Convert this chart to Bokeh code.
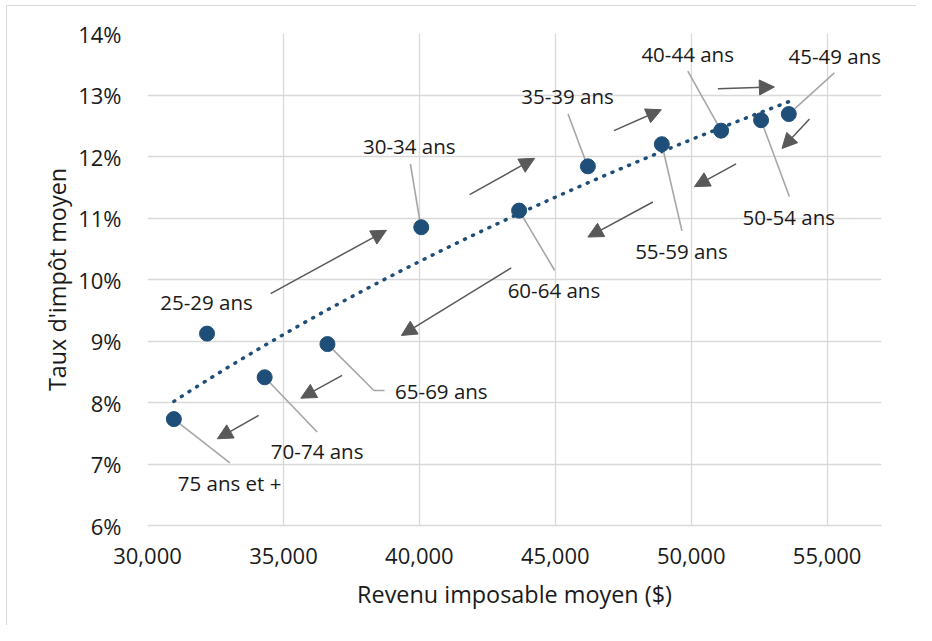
import numpy as np
from bokeh.plotting import figure
from bokeh.models import (ColumnDataSource, Range1d, FixedTicker, NumeralTickFormatter,
                          PrintfTickFormatter, Arrow, NormalHead)
from bokeh.core.properties import value
from bokeh.embed import file_html
from bokeh.resources import INLINE

# ---- data ----
ages = ["25-29 ans", "30-34 ans", "35-39 ans", "40-44 ans", "45-49 ans", "50-54 ans",
        "55-59 ans", "60-64 ans", "65-69 ans", "70-74 ans", "75 ans et +"]
revenu = [32190, 40070, 46200, 51100, 53590, 52570, 48920, 43670, 36620, 34310, 30970]
taux = [9.12, 10.85, 11.84, 12.42, 12.69, 12.59, 12.20, 11.12, 8.95, 8.41, 7.73]

# label anchor positions (data units)
label_x = [32170, 39630, 45450, 49870, 55280, 53590, 49640, 44950, 40810, 36240, 33020]
label_y = [9.64, 12.17, 12.99, 13.67, 13.64, 11.02, 10.46, 9.83, 8.18, 7.21, 6.69]

# leader lines (data units)
leader_xs = [[39670, 40050], [45470, 46180], [49875, 51100], [55265, 53590],
             [53610, 52570], [49660, 48920], [44975, 43670], [38720, 38330, 36620],
             [36240, 34310], [33030, 30970]]
leader_ys = [[11.88, 10.87], [12.69, 11.85], [13.39, 12.42], [13.36, 12.69],
             [11.35, 12.59], [10.79, 12.20], [10.15, 11.12], [8.195, 8.195, 8.95],
             [7.52, 8.41], [7.02, 7.73]]

# life-cycle arrows (data units)
arrow_x0 = [34530, 41850, 47160, 50980, 54350, 51650, 48590, 43380, 37160, 34090]
arrow_y0 = [9.77, 11.38, 12.42, 13.10, 12.61, 11.88, 11.26, 10.19, 8.44, 7.79]
arrow_x1 = [38790, 44240, 48900, 53060, 53340, 50120, 46200, 39340, 35640, 32570]
arrow_y1 = [10.80, 11.97, 12.76, 13.13, 12.13, 11.51, 10.69, 9.09, 8.07, 7.41]

x_ticks = [30000, 35000, 40000, 45000, 50000, 55000]
y_ticks = [6, 7, 8, 9, 10, 11, 12, 13, 14]

# ---- figure ----
FONT = "Open Sans"
p = figure(width=910, height=620, output_backend="svg", toolbar_location=None,
           x_range=Range1d(30000, 57000), y_range=Range1d(6, 14),
           min_border_left=140, min_border_right=36, min_border_top=27, min_border_bottom=101)
p.margin = (5, 0, 0, 6)
p.outline_line_color = None
p.background_fill_color = "white"
p.border_fill_color = "white"
p.styles = {"border-left": "1px solid #d9d9d9", "border-top": "1px solid #d9d9d9"}

p.xaxis.ticker = FixedTicker(ticks=x_ticks)
p.yaxis.ticker = FixedTicker(ticks=y_ticks)
p.xaxis.formatter = NumeralTickFormatter(format="0,0")
p.yaxis.formatter = PrintfTickFormatter(format="%d%%")

for ax in (p.xaxis[0], p.yaxis[0]):
    ax.major_tick_line_color = None
    ax.minor_tick_line_color = None
    ax.major_label_text_font = FONT
    ax.major_label_text_font_size = "22px"
    ax.major_label_text_color = "#1a1a1a"
    ax.axis_label_text_font = FONT
    ax.axis_label_text_font_size = "23.4px"
    ax.axis_label_text_font_style = "normal"
    ax.axis_label_text_color = "#1a1a1a"

p.xaxis.axis_line_color = "#d9d9d9"
p.xaxis.axis_line_width = 1.3
p.yaxis.axis_line_color = None
p.xaxis.major_label_standoff = 16
p.yaxis.major_label_standoff = 20
p.xaxis.axis_label = "Revenu imposable moyen ($)"
p.yaxis.axis_label = "Taux d'impôt moyen"
p.xaxis.axis_label_standoff = 11
p.yaxis.axis_label_standoff = 2

p.grid.grid_line_color = "#d9d9d9"
p.grid.grid_line_width = 1.3

# trendline (logarithmic fit of the data)
lx = np.log(np.array(revenu, dtype=float))
a, b = np.polyfit(lx, np.array(taux), 1)
tx = np.linspace(min(revenu), max(revenu), 80)
ty = a * np.log(tx) + b
p.line(tx, ty, line_color="#1f4e79", line_width=3.5, line_dash="1 8", line_cap="round")

# leader lines
p.multi_line(xs=leader_xs, ys=leader_ys, line_color="#a6a6a6", line_width=1.6)

# arrows
asrc = ColumnDataSource(dict(x0=arrow_x0, y0=arrow_y0, x1=arrow_x1, y1=arrow_y1))
p.add_layout(Arrow(x_start="x0", y_start="y0", x_end="x1", y_end="y1", source=asrc,
                   line_color="#595959", line_width=1.5,
                   end=NormalHead(size=15, fill_color="#595959", line_color="#595959", line_width=1)))

# points
src = ColumnDataSource(dict(x=revenu, y=taux))
p.scatter("x", "y", source=src, size=15, fill_color="#1f4e79", line_color="#1f4e79")

# labels
lsrc = ColumnDataSource(dict(x=label_x, y=label_y, t=ages))
p.text("x", "y", text="t", source=lsrc, text_align="center", text_baseline="middle",
       text_font=value(FONT), text_font_size=value("20.5px"), text_color="#1a1a1a")

open("out.html", "w").write(file_html(p, INLINE))
